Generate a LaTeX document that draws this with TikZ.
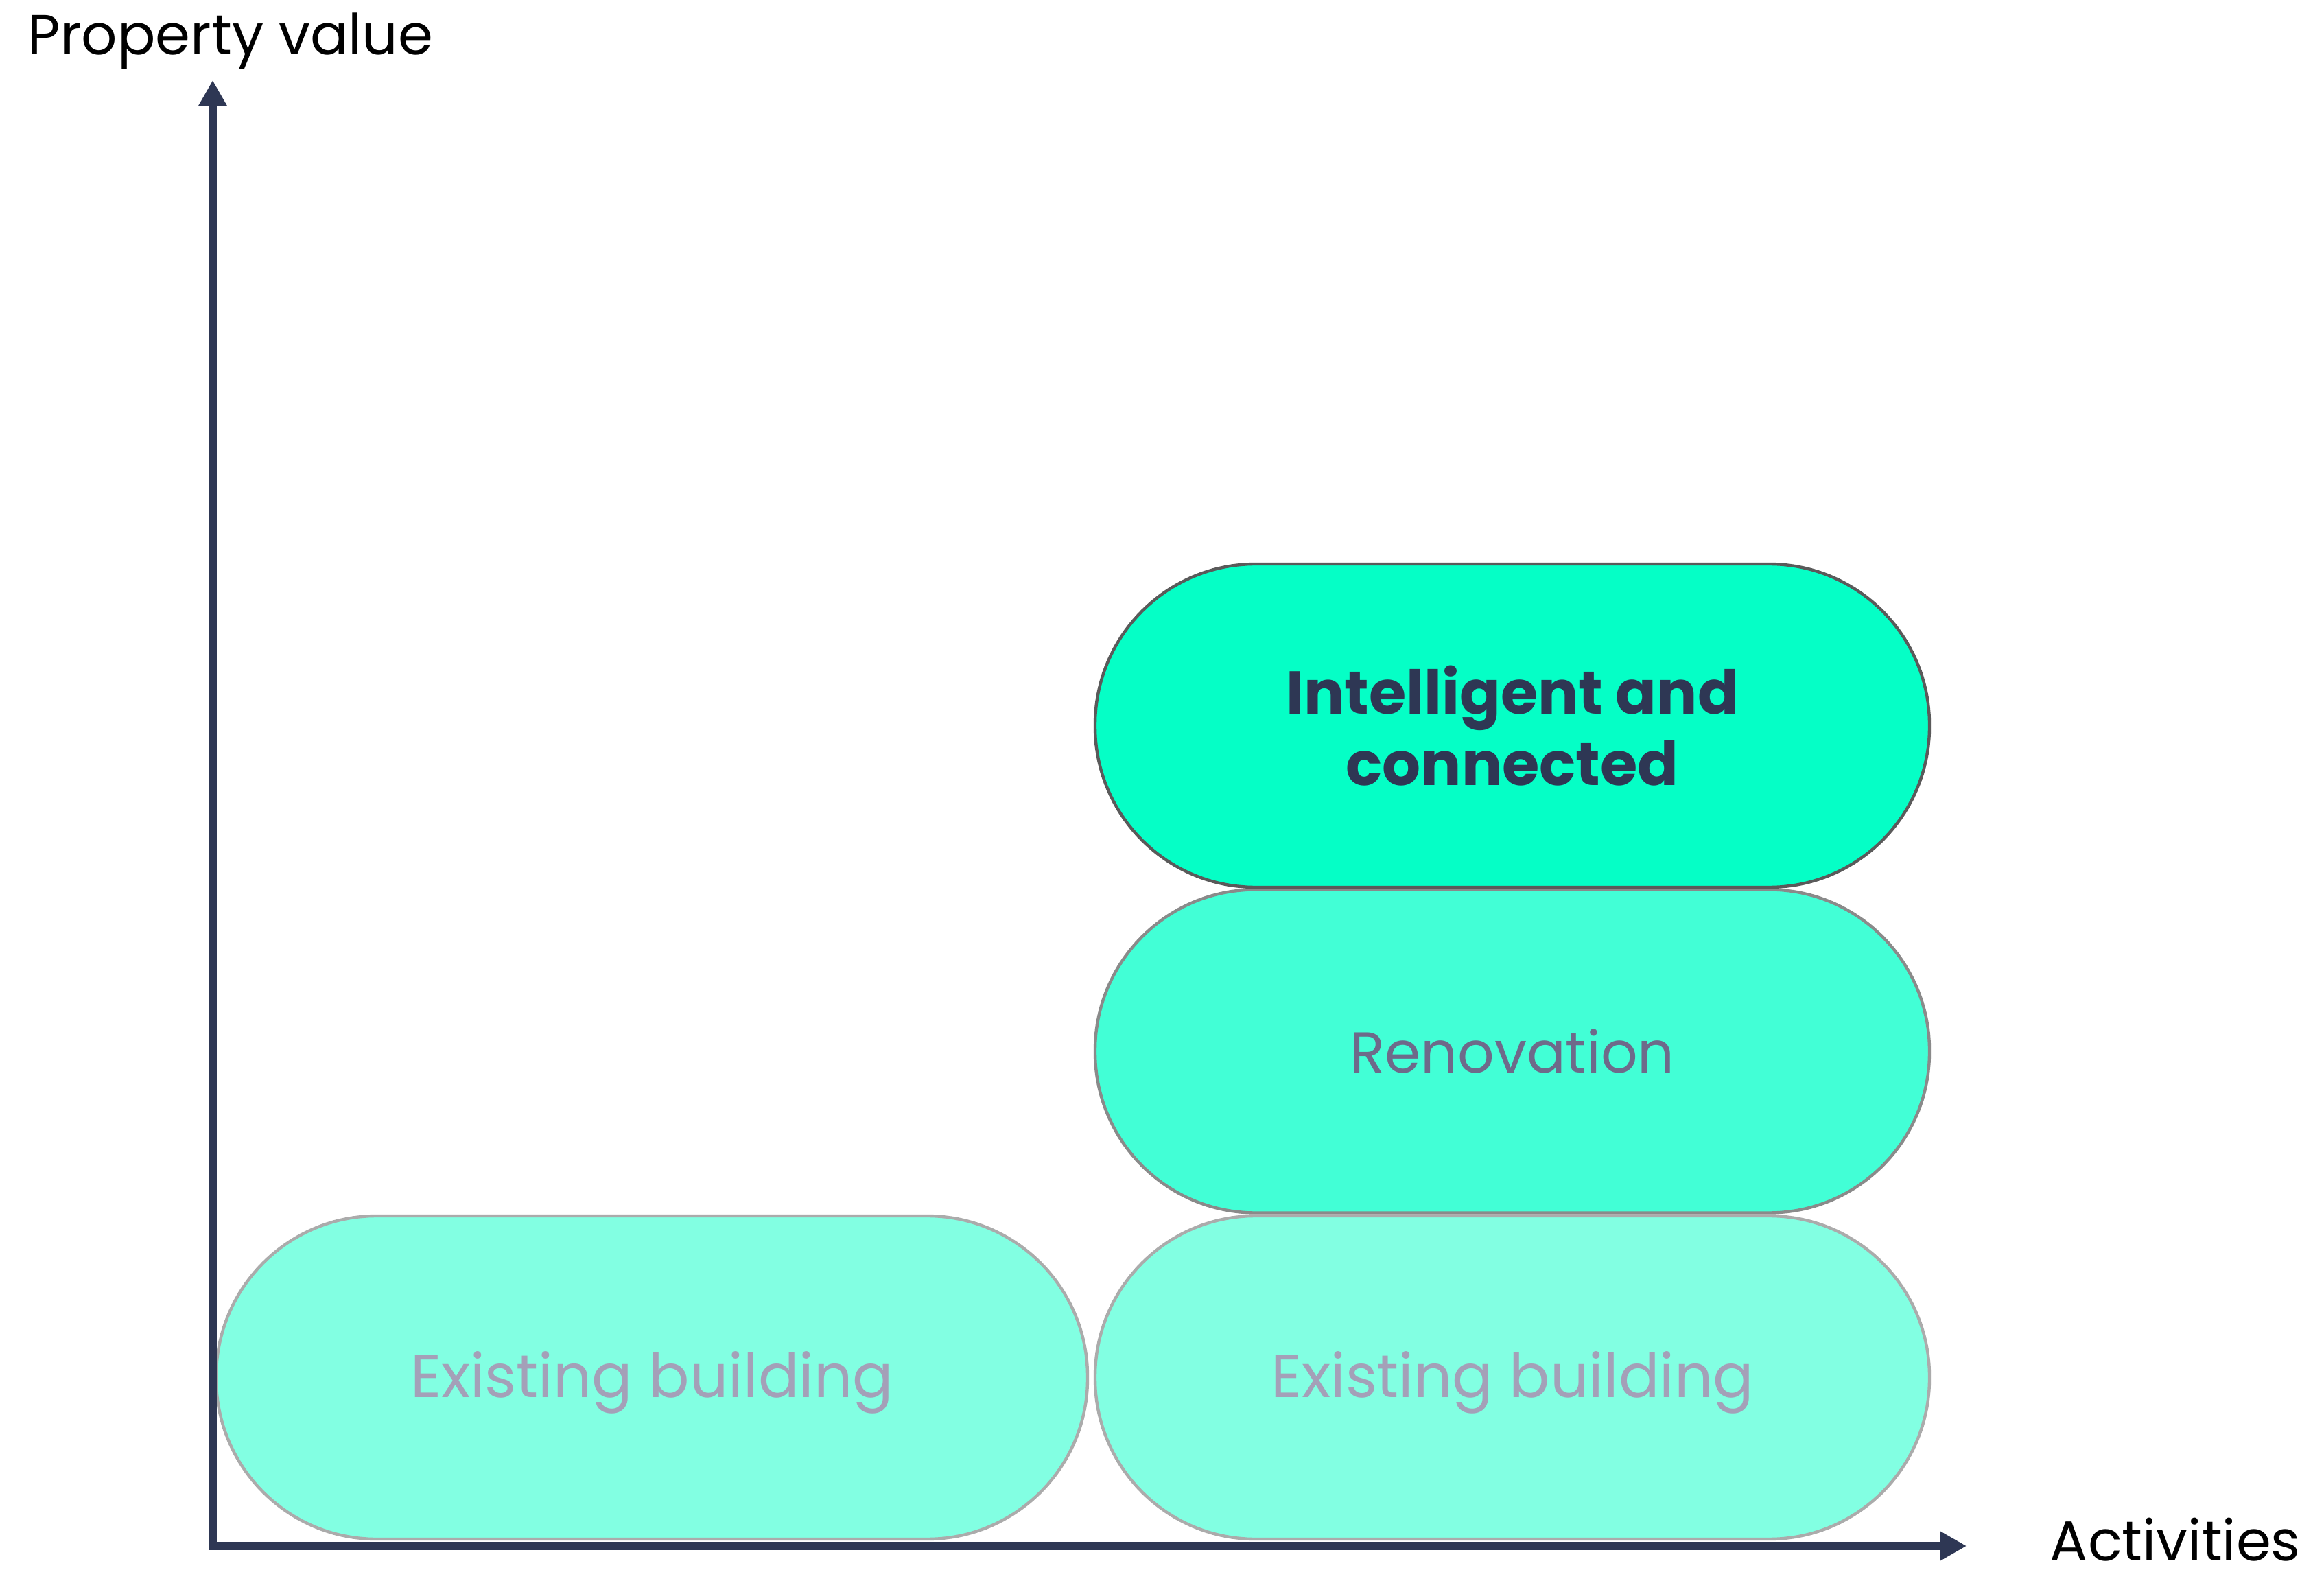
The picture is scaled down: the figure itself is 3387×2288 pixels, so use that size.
\documentclass[tikz,border=0pt]{standalone}
\usepackage{fontspec}
\setmainfont{Poppins}
\usetikzlibrary{arrows.meta}
\definecolor{axisblue}{HTML}{2E3754}
\definecolor{fillA}{HTML}{05FFC6}
\definecolor{fillB}{HTML}{42FFD6}
\definecolor{fillC}{HTML}{82FFE2}
\definecolor{lineA}{HTML}{5A5A5A}
\definecolor{lineB}{HTML}{8A8A8A}
\definecolor{lineC}{HTML}{ABABAB}
\definecolor{txtB}{HTML}{6E6A8A}
\definecolor{txtC}{HTML}{A4A0B8}
\tikzset{
  pill/.style={draw, line width=1.1pt, rounded corners=58.5pt, minimum height=117.75pt, inner sep=0pt, align=center},
  pillA/.style={pill, fill=fillA, draw=lineA, text=axisblue, font=\fontsize{22}{26}\selectfont\bfseries},
  pillB/.style={pill, fill=fillB, draw=lineB, text=txtB, font=\fontsize{21}{26}\selectfont},
  pillC/.style={pill, fill=fillC, draw=lineC, text=txtC, font=\fontsize{22}{26}\selectfont},
  axislabel/.style={inner sep=0pt, anchor=base west, font=\fontsize{20.5}{24}\selectfont},
  axisline/.style={draw=axisblue, line width=3pt, -{Triangle[length=9.5pt,width=10pt]}}
}
\begin{document}
\begin{tikzpicture}[x=0.25pt,y=-0.25pt]
\useasboundingbox (0,0) rectangle (3387,2288);
% pills
\node[pillC, minimum width=317.5pt] (ex1) at (950,2007.5) {\raisebox{-7.2pt}[0pt][0pt]{Existing building}};
\node[pillC, minimum width=304pt] (ex2) at (2204,2007.5) {\raisebox{-7.2pt}[0pt][0pt]{Existing building}};
\node[pillB, minimum width=304pt] (reno) at (2204,1532) {Renovation};
\node[pillA, minimum width=304pt] (intel) at (2204,1057.5) {Intelligent and\\connected};
% axes
\coordinate (origin) at (310,2253);
\coordinate (ytip) at (310,117);
\coordinate (xtip) at (2866,2253);
\draw[axisline] ([yshift=-1.5pt]origin) -- (ytip);
\draw[axisline] ([xshift=-1.5pt]origin) -- (xtip);
% labels
\node[axislabel] (ylab) at (40,80) {Property value};
\node[axislabel] (xlab) at (2987,2274) {Activities};
\end{tikzpicture}
\end{document}
